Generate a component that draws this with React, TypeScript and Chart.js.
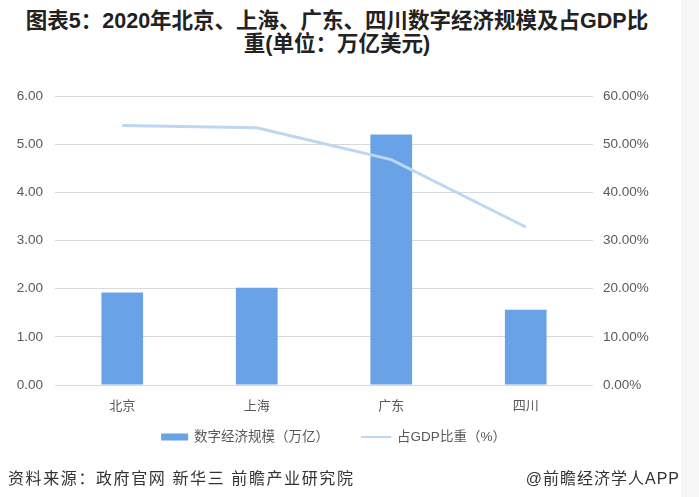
import React, { useEffect, useRef } from 'react';
import { Chart, registerables } from 'chart.js';

Chart.register(...registerables);

const categories = ['北京', '上海', '广东', '四川'];
const scaleValues = [1.92, 2.02, 5.2, 1.56];
const gdpShareValues = [53.9, 53.4, 46.8, 32.8];
const seriesNames = ['数字经济规模（万亿）', '占GDP比重（%）'];
const titleLines = ['图表5：2020年北京、上海、广东、四川数字经济规模及占GDP比', '重(单位：万亿美元)'];
const sourceText = '资料来源：政府官网 新华三 前瞻产业研究院';
const brandText = '@前瞻经济学人APP';

const FONT = '"Liberation Sans", "Noto Sans CJK SC", sans-serif';

const bottomLegend = {
  id: 'bottomLegend',
  afterDraw(chart: any) {
    const ctx = chart.ctx as CanvasRenderingContext2D;
    const ds = chart.data.datasets;
    const y = 437;
    const centerX = 333.5;
    const symW = [27, 30];
    const gapText = 6;
    const gapItems = 32;
    ctx.save();
    ctx.font = `13.5px ${FONT}`;
    ctx.textBaseline = 'middle';
    ctx.textAlign = 'left';
    const widths = ds.map((d: any) => ctx.measureText(d.label).width);
    const total = symW[0] + gapText + widths[0] + gapItems + symW[1] + gapText + widths[1];
    let x = centerX - total / 2;
    ctx.fillStyle = ds[0].backgroundColor;
    ctx.fillRect(x, y - 3.5, symW[0], 7);
    x += symW[0] + gapText;
    ctx.fillStyle = '#595959';
    ctx.fillText(ds[0].label, x, y);
    x += widths[0] + gapItems;
    ctx.strokeStyle = ds[1].borderColor;
    ctx.lineWidth = 2;
    ctx.beginPath();
    ctx.moveTo(x, y);
    ctx.lineTo(x + symW[1], y);
    ctx.stroke();
    x += symW[1] + gapText;
    ctx.fillStyle = '#595959';
    ctx.fillText(ds[1].label, x, y);
    ctx.restore();
  },
};

export default function App() {
  const canvasRef = useRef<HTMLCanvasElement | null>(null);

  useEffect(() => {
    if (!canvasRef.current) return;
    const chart = new Chart(canvasRef.current, {
      type: 'bar',
      data: {
        labels: categories,
        datasets: [
          {
            type: 'bar',
            label: seriesNames[0],
            data: scaleValues,
            backgroundColor: '#6aa2e8',
            borderWidth: 0,
            barPercentage: 0.31,
            categoryPercentage: 1,
            yAxisID: 'y',
            order: 1,
          } as any,
          {
            type: 'line',
            label: seriesNames[1],
            data: gdpShareValues,
            borderColor: '#bdd7f1',
            backgroundColor: '#bdd7f1',
            borderWidth: 3,
            pointRadius: 0,
            tension: 0,
            yAxisID: 'y1',
            order: 0,
          } as any,
        ],
      },
      options: {
        responsive: false,
        animation: false,
        layout: { padding: { top: 96, left: 0, right: 0, bottom: 82 } },
        plugins: {
          title: { display: false },
          tooltip: { enabled: false },
          legend: { display: false },
        },
        scales: {
          x: {
            grid: { display: false, drawTicks: false },
            border: { display: false },
            ticks: { color: '#595959', font: { family: FONT, size: 13 }, padding: 14 },
            afterFit: (s: any) => { s.height = 30; },
          },
          y: {
            position: 'left',
            min: 0,
            max: 6,
            ticks: {
              stepSize: 1,
              color: '#595959',
              font: { family: FONT, size: 13.5 },
              padding: 12,
              callback: (v: any) => Number(v).toFixed(2),
            },
            grid: { color: '#d9d9d9', lineWidth: 1, drawTicks: false },
            border: { display: false },
            afterFit: (s: any) => { s.width = 55; },
          },
          y1: {
            position: 'right',
            min: 0,
            max: 60,
            ticks: {
              stepSize: 10,
              color: '#595959',
              font: { family: FONT, size: 13.5 },
              padding: 10,
              callback: (v: any) => Number(v).toFixed(2) + '%',
            },
            grid: { display: false, drawTicks: false },
            border: { display: false },
            afterFit: (s: any) => { s.width = 73; },
          },
        },
      },
      plugins: [bottomLegend],
    });
    return () => chart.destroy();
  }, []);

  return (
    <div style={{ position: 'fixed', left: 0, top: 0, width: 699, height: 497, background: '#ffffff', overflow: 'hidden' }}>
      <div style={{ position: 'absolute', left: 681, top: 0, width: 18, height: 497, background: '#f6f6f6' }} />
      <div
        style={{
          position: 'absolute',
          left: 0,
          top: 10,
          width: 674,
          textAlign: 'center',
          fontFamily: FONT,
          fontWeight: 'bold',
          fontSize: 21.5,
          lineHeight: '23px',
          color: '#222222',
        }}
      >
        {titleLines.map((t, i) => (
          <div key={i}>{t}</div>
        ))}
      </div>
      <canvas ref={canvasRef} width={666} height={497} style={{ position: 'absolute', left: 0, top: 0, width: 666, height: 497 }} />
      <div
        style={{
          position: 'absolute',
          left: 8,
          top: 465,
          fontFamily: FONT,
          fontSize: 16,
          letterSpacing: 1.6,
          color: '#333333',
          whiteSpace: 'nowrap',
        }}
      >
        {sourceText}
      </div>
      <div
        style={{
          position: 'absolute',
          right: 19,
          top: 465,
          fontFamily: FONT,
          fontSize: 16,
          letterSpacing: 1,
          color: '#333333',
          whiteSpace: 'nowrap',
        }}
      >
        {brandText}
      </div>
    </div>
  );
}
